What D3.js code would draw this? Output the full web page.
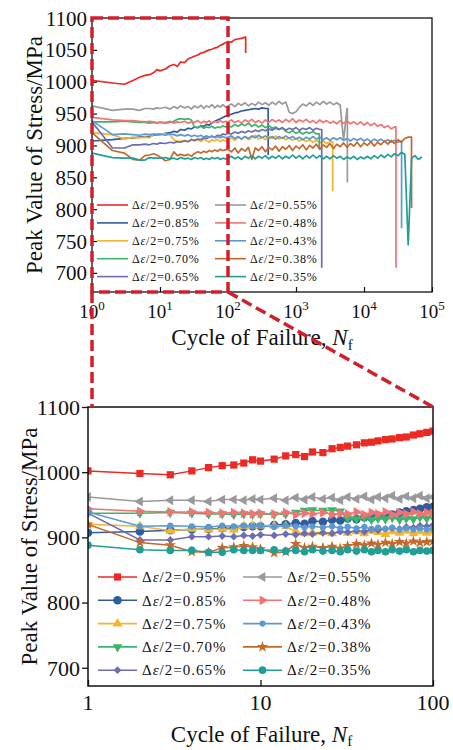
<!DOCTYPE html>
<html>
<head>
<meta charset="utf-8">
<script src="https://cdn.jsdelivr.net/npm/d3@7"></script>
<style>
  body { margin: 0; background: #fff; }
  svg { display: block; }
  text { font-family: "Liberation Serif", "Times New Roman", serif; fill: #111; }
</style>
</head>
<body>
<svg id="chart" width="453" height="750"></svg>
<script>
// Strain amplitudes (Δε/2) and their styling
const amplitudes = ["0.95%", "0.85%", "0.75%", "0.70%", "0.65%", "0.55%", "0.48%", "0.43%", "0.38%", "0.35%"];
const colors = ["#EC2A24", "#2F5C9F", "#F3B52E", "#3DB46B", "#6E6DAF", "#9A9A9C", "#F07474", "#5C98D2", "#C5692B", "#219E96"];
const markers = ["square", "circle", "triUp", "triDown", "diamond", "triLeft", "triRight", "dot", "star", "circleT"];

// Cycle numbers at which the peak stress is recorded
const cycles = [1, 2, 3, 4, 5, 6, 7, 8, 9, 10, 12, 14, 16, 18, 20, 23, 26, 29, 32, 36, 40, 44, 48, 53, 58, 64, 70, 77, 84, 92,
  100, 112, 126, 141, 158, 178, 200, 224, 251, 282, 316, 355, 398, 447, 501, 562, 631, 708, 794, 891,
  1000, 1122, 1259, 1413, 1585, 1778, 1995, 2239, 2512, 2818, 3162, 3548, 3981, 4467, 5012, 5623, 6310, 7079, 7943, 8913,
  10000, 11220, 12589, 14125, 15849, 17783, 19953, 22387, 25119, 28184, 31623, 35481, 39811, 44668, 50119, 56234, 63096, 70795];

// Peak stress (MPa) per amplitude, one value per cycle above
const stress095 = [1002, 998, 996, 1002, 1007, 1010, 1011, 1014, 1019, 1017, 1020, 1025, 1027, 1024, 1031, 1030, 1036, 1038, 1040, 1042, 1045, 1046, 1048, 1050, 1051, 1053, 1054, 1057, 1059, 1061,
  1063, 1062, 1066, 1067, 1068, 1070];
const stress085 = [907, 909, 911, 912, 913, 914, 914, 916, 917, 917, 919, 920, 922, 921, 925, 924, 927, 926, 929, 928, 931, 930, 933, 932, 935, 938, 940, 942, 944, 946,
  947, 949, 951, 952, 954, 955, 956, 957, 958, 957, 959, 958];
const stress075 = [920, 917, 910, 913, 912, 913, 912, 917, 918, 918, 918, 917, 909, 906, 907, 908, 906, 910, 907, 909, 906, 910, 908, 905, 909, 907, 910, 906, 909, 907,
  909, 912, 908, 913, 910, 914, 909, 912, 916, 910, 913, 909, 914, 911, 915, 910, 913, 909, 912, 908, 911, 907, 910, 906, 909, 905, 908, 904, 907, 903, 906];
const stress070 = [937, 937, 938, 937, 936, 936, 935, 936, 935, 936, 935, 936, 938, 941, 942, 941, 942, 940, 929, 928, 930, 927, 929, 928, 930, 927, 929, 928, 931, 929,
  931, 929, 933, 930, 934, 931, 935, 930, 933, 929, 932, 928, 931, 927, 929, 925, 927, 922, 920, 923, 919, 922, 918, 921, 919, 922, 918];
const stress065 = [937, 896, 896, 901, 901, 902, 901, 903, 902, 904, 903, 905, 904, 906, 905, 907, 906, 909, 908, 910, 909, 912, 911, 913, 914, 913, 916, 915, 918, 917,
  919, 918, 921, 919, 922, 920, 923, 921, 924, 922, 925, 923, 926, 924, 927, 925, 928, 924, 927, 925, 928, 924, 927, 925, 928, 924, 927, 925];
const stress055 = [962, 955, 957, 957, 955, 958, 958, 957, 959, 958, 960, 957, 961, 958, 962, 959, 961, 957, 962, 959, 963, 958, 962, 960, 964, 959, 963, 960, 964, 960,
  962, 965, 961, 966, 963, 967, 962, 966, 963, 968, 964, 967, 963, 968, 964, 969, 965, 968, 952, 950, 953, 960, 965, 962, 967, 963, 968, 964, 969, 965, 968, 964, 967, 963, 908, 958];
const stress048 = [944, 940, 939, 939, 938, 937, 938, 937, 936, 937, 936, 938, 935, 937, 936, 938, 935, 937, 936, 939, 935, 938, 936, 939, 935, 938, 936, 939, 936, 938,
  937, 940, 936, 939, 935, 940, 937, 941, 936, 939, 935, 940, 936, 941, 937, 940, 936, 941, 937, 942, 936, 940, 937, 941, 936, 939, 935, 940, 936, 939,
  935, 938, 934, 939, 935, 938, 934, 937, 933, 937, 932, 936, 931, 935, 930, 933, 928, 931, 926, 929];
const stress043 = [939, 917, 918, 917, 916, 918, 917, 918, 917, 918, 916, 918, 917, 915, 917, 915, 917, 914, 916, 914, 916, 913, 915, 913, 915, 912, 914, 912, 914, 912,
  913, 915, 911, 914, 910, 914, 911, 915, 912, 916, 912, 915, 911, 914, 910, 914, 911, 915, 911, 914, 910, 913, 909, 913, 910, 914, 910, 913, 909, 912,
  908, 912, 909, 912, 908, 911, 907, 911, 908, 911, 907, 910, 906, 910, 907, 910, 906, 909, 905, 908, 905, 907];
const stress038 = [920, 892, 888, 878, 877, 884, 885, 887, 885, 882, 876, 878, 890, 884, 886, 884, 886, 883, 887, 890, 888, 891, 889, 892, 890, 893, 891, 894, 892, 893,
  894, 890, 896, 888, 895, 891, 897, 878, 896, 892, 898, 890, 897, 893, 899, 891, 898, 894, 900, 892, 899, 895, 901, 893, 900, 896, 902, 894, 901, 897,
  903, 895, 902, 898, 904, 897, 903, 899, 905, 898, 904, 900, 906, 899, 905, 901, 907, 902, 908, 903, 909, 905, 911, 913];
const stress035 = [888, 881, 880, 880, 877, 877, 881, 880, 880, 880, 881, 879, 880, 878, 881, 879, 880, 878, 881, 879, 881, 878, 880, 878, 881, 879, 881, 878, 880, 879,
  880, 883, 879, 882, 878, 883, 880, 884, 879, 883, 880, 884, 879, 883, 880, 884, 879, 883, 880, 885, 880, 884, 879, 884, 880, 885, 880, 884, 879, 883,
  879, 884, 880, 883, 878, 882, 879, 883, 878, 882, 879, 883, 879, 884, 880, 885, 881, 886, 882, 887, 884, 889, 886, 744, 880, 884, 878, 882];

// Cycle at failure and the stress the last record drops to
const failCycle = [182, 390, 3460, 2200, 2390, 5690, 29500, 35700, 50000, null];
const failStress = [1045, 885, 828, 895, 708, 842, 708, 770, 802, null];

// Axis ticks
const topXTicks = [1, 10, 100, 1000, 10000, 100000];
const topXExponents = ["0", "1", "2", "3", "4", "5"];
const topYTicks = [700, 750, 800, 850, 900, 950, 1000, 1050, 1100];
const bottomXTicks = [1, 10, 100];
const bottomYTicks = [700, 800, 900, 1000, 1100];

const seriesValues = [stress095, stress085, stress075, stress070, stress065, stress055, stress048, stress043, stress038, stress035];

const series = amplitudes.map((amp, i) => {
  const vals = seriesValues[i];
  const pts = vals.map((v, j) => ({ n: cycles[j], s: v }));
  if (failCycle[i] !== null) {
    pts.push({ n: failCycle[i], s: vals[vals.length - 1] });
    pts.push({ n: failCycle[i], s: failStress[i] });
  }
  return { amp, color: colors[i], marker: markers[i], pts, low: vals.map((v, j) => ({ n: cycles[j], s: v })).filter(d => d.n <= 112) };
});

const svg = d3.select("#chart");
const defs = svg.append("defs");

function legendLabel(sel, amp, size, spacing) {
  const t = sel.append("text").attr("font-size", size).attr("letter-spacing", spacing);
  t.append("tspan").text("Δ");
  t.append("tspan").attr("font-style", "italic").text("ε");
  t.append("tspan").text("/2=" + amp);
  return t;
}

// ---------- Upper panel: full life, log cycles 1 – 1e5 ----------
const P1 = { left: 92, right: 432, top: 18, bottom: 292 };
const x1 = d3.scaleLog().domain([1, 1e5]).range([P1.left, P1.right]);
const y1 = d3.scaleLinear().domain([670, 1100]).range([P1.bottom, P1.top]);

defs.append("clipPath").attr("id", "clip1").append("rect")
  .attr("x", P1.left).attr("y", P1.top).attr("width", P1.right - P1.left).attr("height", P1.bottom - P1.top);

const line1 = d3.line().x(d => x1(d.n)).y(d => y1(d.s));
const g1 = svg.append("g").attr("clip-path", "url(#clip1)");
series.forEach(s => {
  g1.append("path").attr("d", line1(s.pts)).attr("fill", "none")
    .attr("stroke", s.color).attr("stroke-width", 1.7).attr("stroke-linejoin", "round");
});

const ax1x = svg.append("g").attr("transform", `translate(0,${P1.bottom})`)
  .call(d3.axisBottom(x1).tickValues(topXTicks).tickSize(-5).tickFormat(""));
const ax1y = svg.append("g").attr("transform", `translate(${P1.left},0)`)
  .call(d3.axisLeft(y1).tickValues(topYTicks).tickSize(-5).tickFormat(""));
[ax1x, ax1y].forEach(a => { a.select(".domain").remove(); a.selectAll("line").attr("stroke", "#111").attr("stroke-width", 1.2); });

svg.append("rect").attr("x", P1.left).attr("y", P1.top)
  .attr("width", P1.right - P1.left).attr("height", P1.bottom - P1.top)
  .attr("fill", "none").attr("stroke", "#111").attr("stroke-width", 1.3);

topYTicks.forEach(t => {
  svg.append("text").attr("x", P1.left - 5).attr("y", y1(t)).attr("dy", "0.36em")
    .attr("text-anchor", "end").attr("font-size", 21).text(t);
});
topXTicks.forEach((t, i) => {
  const tx = svg.append("text").attr("x", x1(t)).attr("y", 318).attr("text-anchor", "middle").attr("font-size", 19);
  tx.append("tspan").text("10");
  tx.append("tspan").attr("font-size", 13).attr("dy", -8).text(topXExponents[i]);
});

const xt1 = svg.append("text").attr("x", (P1.left + P1.right) / 2).attr("y", 345)
  .attr("text-anchor", "middle").attr("font-size", 23);
xt1.append("tspan").text("Cycle of Failure, ");
xt1.append("tspan").attr("font-style", "italic").text("N");
xt1.append("tspan").attr("font-size", 15).attr("dy", 5).text("f");

svg.append("text").attr("transform", `translate(42,${(P1.top + P1.bottom) / 2}) rotate(-90)`)
  .attr("text-anchor", "middle").attr("font-size", 23).text("Peak Value of Stress/MPa");

// legend (lines only)
series.forEach((s, i) => {
  const col = Math.floor(i / 5), row = i % 5;
  const lx = col === 0 ? 97 : 215;
  const ly = 205 + row * 17.9;
  svg.append("line").attr("x1", lx).attr("x2", lx + 31).attr("y1", ly).attr("y2", ly)
    .attr("stroke", s.color).attr("stroke-width", 1.6);
  legendLabel(svg, s.amp, 12, 0.8).attr("x", lx + 35).attr("y", ly).attr("dy", "0.35em");
});

// ---------- Lower panel: first 100 cycles with markers ----------
const P2 = { left: 88, right: 433, top: 407, bottom: 686 };
const x2 = d3.scaleLog().domain([1, 100]).range([P2.left, P2.right]);
const y2 = d3.scaleLinear().domain([672, 1100]).range([P2.bottom, P2.top]);

defs.append("clipPath").attr("id", "clip2").append("rect")
  .attr("x", P2.left).attr("y", P2.top).attr("width", P2.right - P2.left).attr("height", P2.bottom - P2.top);

const symbolSpec = {
  square: { type: d3.symbolSquare, size: 52, rot: 0 },
  circle: { type: d3.symbolCircle, size: 58, rot: 0 },
  triUp: { type: d3.symbolTriangle, size: 42, rot: 0 },
  triDown: { type: d3.symbolTriangle, size: 40, rot: 180 },
  diamond: { type: d3.symbolSquare, size: 30, rot: 45 },
  triLeft: { type: d3.symbolTriangle, size: 42, rot: -90 },
  triRight: { type: d3.symbolTriangle, size: 42, rot: 90 },
  dot: { type: d3.symbolCircle, size: 30, rot: 0 },
  star: { type: d3.symbolStar, size: 40, rot: 0 },
  circleT: { type: d3.symbolCircle, size: 46, rot: 0 }
};

const line2 = d3.line().x(d => x2(d.n)).y(d => y2(d.s));
const g2 = svg.append("g").attr("clip-path", "url(#clip2)");
series.forEach(s => {
  const sp = symbolSpec[s.marker];
  const gs = g2.append("g");
  gs.append("path").attr("d", line2(s.low)).attr("fill", "none")
    .attr("stroke", s.color).attr("stroke-width", 1.5);
  gs.selectAll("path.m").data(s.low).join("path").attr("class", "m")
    .attr("d", d3.symbol().type(sp.type).size(sp.size))
    .attr("transform", d => `translate(${x2(d.n)},${y2(d.s)}) rotate(${sp.rot})`)
    .attr("fill", s.color);
});

const ax2x = svg.append("g").attr("transform", `translate(0,${P2.bottom})`)
  .call(d3.axisBottom(x2).tickValues(bottomXTicks).tickSize(-6).tickFormat(""));
const ax2y = svg.append("g").attr("transform", `translate(${P2.left},0)`)
  .call(d3.axisLeft(y2).tickValues(bottomYTicks).tickSize(6).tickFormat(""));
[ax2x, ax2y].forEach(a => { a.select(".domain").remove(); a.selectAll("line").attr("stroke", "#111").attr("stroke-width", 1.3); });

svg.append("rect").attr("x", P2.left).attr("y", P2.top)
  .attr("width", P2.right - P2.left).attr("height", P2.bottom - P2.top)
  .attr("fill", "none").attr("stroke", "#111").attr("stroke-width", 1.5);

bottomYTicks.forEach(t => {
  svg.append("text").attr("x", P2.left - 8).attr("y", y2(t)).attr("dy", "0.36em")
    .attr("text-anchor", "end").attr("font-size", 22).text(t);
});
bottomXTicks.forEach(t => {
  svg.append("text").attr("x", x2(t)).attr("y", 710).attr("text-anchor", "middle")
    .attr("font-size", 22).text(t);
});

const xt2 = svg.append("text").attr("x", (P2.left + P2.right) / 2 + 1).attr("y", 742)
  .attr("text-anchor", "middle").attr("font-size", 23);
xt2.append("tspan").text("Cycle of Failure, ");
xt2.append("tspan").attr("font-style", "italic").text("N");
xt2.append("tspan").attr("font-size", 15).attr("dy", 4).text("f");

svg.append("text").attr("transform", `translate(37,${(P2.top + P2.bottom) / 2}) rotate(-90)`)
  .attr("text-anchor", "middle").attr("font-size", 23).text("Peak Value of Stress/MPa");

// legend (line + marker)
series.forEach((s, i) => {
  const col = Math.floor(i / 5), row = i % 5;
  const lx = col === 0 ? 98 : 243;
  const ly = 577 + row * 23.3;
  const sp = symbolSpec[s.marker];
  svg.append("line").attr("x1", lx).attr("x2", lx + 39).attr("y1", ly).attr("y2", ly)
    .attr("stroke", s.color).attr("stroke-width", 1.6);
  svg.append("path").attr("d", d3.symbol().type(sp.type).size(sp.size)())
    .attr("transform", `translate(${lx + 19.5},${ly}) rotate(${sp.rot})`).attr("fill", s.color);
  legendLabel(svg, s.amp, 15, 1).attr("x", lx + 44).attr("y", ly).attr("dy", "0.35em");
});

// ---------- Zoom indicator: dashed box on the first 100 cycles ----------
const dashColor = "#D21F2C";
const zoomLinks = svg.append("g").attr("fill", "none").attr("stroke", dashColor)
  .attr("stroke-width", 3.5).attr("stroke-dasharray", "11,5");
zoomLinks.append("rect").attr("x", x1(1)).attr("y", y1(1100))
  .attr("width", x1(100) - x1(1)).attr("height", y1(670) - y1(1100));
zoomLinks.append("line").attr("x1", x1(1)).attr("y1", y1(670)).attr("x2", x1(1)).attr("y2", y2(1100));
zoomLinks.append("line").attr("x1", x1(100)).attr("y1", y1(670)).attr("x2", x2(100)).attr("y2", y2(1100));
</script>
</body>
</html>
